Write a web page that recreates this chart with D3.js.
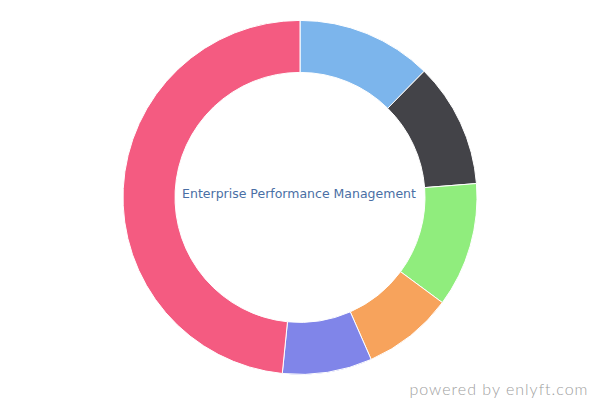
<!DOCTYPE html>
<html><head><meta charset="utf-8">
<script src="https://cdn.jsdelivr.net/npm/d3@7"></script>
<style>html,body{margin:0;padding:0;background:#fff;}svg{display:block;}</style>
</head><body>
<svg id="chart" width="600" height="400"></svg>
<script>
const categories = ["Product A", "Product B", "Product C", "Product D", "Product E", "Others"];
const values = [12.4, 11.4, 11.4, 8.3, 8.2, 48.5];
const colors = ["#7cb5ec", "#434348", "#90ed7d", "#f7a35c", "#8085e9", "#f45b81"];
const title = "Enterprise Performance Management";
const credit = "powered by enlyft.com";

const svg = d3.select("#chart");
const cx = 300, cy = 197.4, rOuter = 177, rInner = 125;
const data = categories.map((c, i) => ({ name: c, value: values[i], color: colors[i] }));
const pie = d3.pie().value(d => d.value).sort(null);
const arc = d3.arc().innerRadius(rInner).outerRadius(rOuter);
const g = svg.append("g").attr("transform", `translate(${cx},${cy})`);
g.selectAll("path").data(pie(data)).join("path")
  .attr("d", arc)
  .attr("fill", d => d.data.color)
  .attr("stroke", "#fff")
  .attr("stroke-width", 1)
  .attr("stroke-linejoin", "round");

svg.append("text")
  .attr("x", 299).attr("y", 198.3)
  .attr("text-anchor", "middle")
  .attr("font-family", "DejaVu Sans, sans-serif")
  .attr("font-size", 12.5)
  .attr("fill", "#4a6fa5")
  .text(title);

svg.append("text")
  .attr("x", 588.5).attr("y", 394.5)
  .attr("text-anchor", "end")
  .attr("font-family", "Lato, sans-serif")
  .attr("font-weight", 300)
  .attr("font-size", 16)
  .attr("letter-spacing", 1)
  .attr("fill", "#a0a0a0")
  .text(credit);
</script>
</body></html>
